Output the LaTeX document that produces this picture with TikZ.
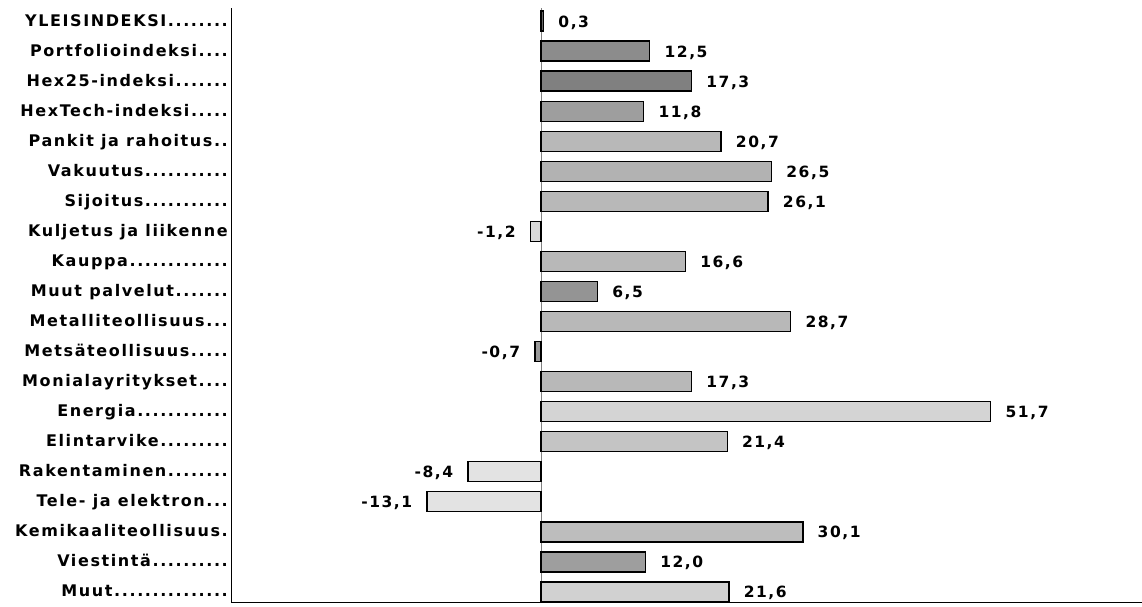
\documentclass[tikz,border=0pt]{standalone}
\usepackage{fontspec}
\setmainfont{DejaVu Sans}
\newfontfamily\labfont[LetterSpace=10]{DejaVu Sans}
\begin{document}
\begin{tikzpicture}[x=1pt,y=-1pt,
  lab/.style={anchor=base east,inner sep=0pt,font=\labfont\bfseries\fontsize{16}{19}\selectfont},
  val/.style={inner sep=0pt,font=\labfont\bfseries\fontsize{15.5}{19}\selectfont},
  barbox/.style={draw=black,line width=1.3pt,inner sep=0pt,minimum height=20pt},
  axis/.style={draw=black,line width=1pt}]
\useasboundingbox (0,0) rectangle (1142,606);
\coordinate (ytop) at (231,8);
\coordinate (yorig) at (231,602);
\coordinate (xend) at (1142,602);
\coordinate (ztop) at (541,8);
\coordinate (zbot) at (541,602);
\draw[draw=black!50,line width=0.6pt] (ztop) -- (zbot);
\draw[axis] (ytop) -- (yorig) -- (xend);
\foreach \t/\v/\s/\g [count=\i] in {
  {YLEISINDEKSI........}/0.3/{0,3}/60,
  {Portfolioindeksi....}/12.5/{12,5}/45,
  {Hex25-indeksi.......}/17.3/{17,3}/50,
  {HexTech-indeksi.....}/11.8/{11,8}/38,
  {Pankit ja rahoitus..}/20.7/{20,7}/28,
  {Vakuutus...........}/26.5/{26,5}/30,
  {Sijoitus...........}/26.1/{26,1}/28,
  {Kuljetus ja liikenne}/-1.2/{-1,2}/15,
  {Kauppa.............}/16.6/{16,6}/28,
  {Muut palvelut.......}/6.5/{6,5}/42,
  {Metalliteollisuus...}/28.7/{28,7}/28,
  {Metsäteollisuus.....}/-0.7/{-0,7}/40,
  {Monialayritykset....}/17.3/{17,3}/28,
  {Energia............}/51.7/{51,7}/17,
  {Elintarvike.........}/21.4/{21,4}/23,
  {Rakentaminen........}/-8.4/{-8,4}/11,
  {Tele- ja elektron...}/-13.1/{-13,1}/11,
  {Kemikaaliteollisuus.}/30.1/{30,1}/26,
  {Viestintä..........}/12.0/{12,0}/38,
  {Muut...............}/21.6/{21,6}/18}
{
  \pgfmathsetmacro\yy{20+30.05*(\i-1)}
  \node[lab] (lab\i) at (228,\yy+6) {\t};
  \node[barbox,fill=black!\g,minimum width={abs(\v)*8.7}] (bar\i) at ({541+\v*8.7/2},\yy+1) {};
  \ifdim \v pt<0pt
    \node[val,anchor=base east] (val\i) at ([xshift=-14pt,yshift=-6pt]bar\i.west) {\s};
  \else
    \node[val,anchor=base west] (val\i) at ([xshift=14pt,yshift=-6pt]bar\i.east) {\s};
  \fi
}
\end{tikzpicture}
\end{document}
